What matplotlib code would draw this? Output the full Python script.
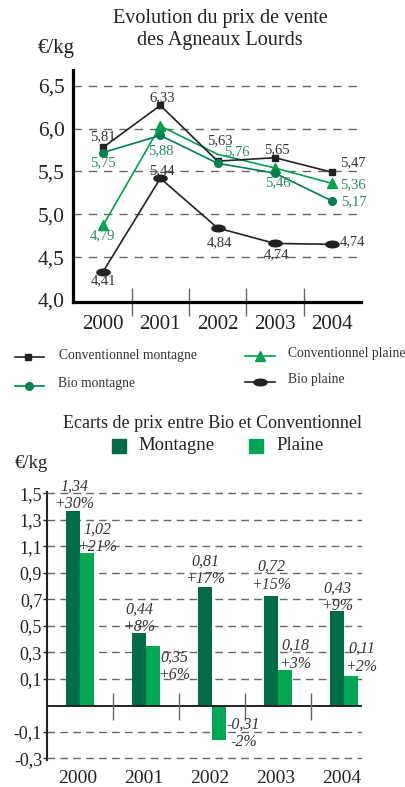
import matplotlib
matplotlib.use('Agg')
import matplotlib.pyplot as plt
from matplotlib.path import Path
from matplotlib.patches import Rectangle
import matplotlib.transforms as mtransforms
import numpy as np

plt.rcParams['font.family'] = ['Liberation Serif', 'DejaVu Serif']

# ---------------- data ----------------
years = ['2000', '2001', '2002', '2003', '2004']

# Top chart: price (EUR/kg) as plotted
conv_montagne = [5.78, 6.27, 5.62, 5.66, 5.49]
bio_montagne = [5.72, 5.92, 5.595, 5.48, 5.155]
conv_plaine = [4.87, 6.03, 5.70, 5.54, 5.36]
bio_plaine = [4.33, 5.42, 4.84, 4.66, 4.65]

conv_montagne_labels = ['5,81', '6,33', '5,63', '5,65', '5,47']
bio_montagne_labels = ['5,75', '5,88', '', '5,46', '5,17']
conv_plaine_labels = ['4,79', '', '5,76', '', '5,36']
bio_plaine_labels = ['4,41', '5,44', '4,84', '4,74', '4,74']

price_ticks = [4.0, 4.5, 5.0, 5.5, 6.0, 6.5]
price_tick_labels = ['4,0', '4,5', '5,0', '5,5', '6,0', '6,5']

# Bottom chart: price gaps Bio vs Conventionnel (bar heights as drawn)
ecart_montagne = [1.366, 0.445, 0.79, 0.724, 0.611]
ecart_plaine = [1.049, 0.347, -0.363, 0.165, 0.12]
montagne_val_labels = ['1,34', '0,44', '0,81', '0,72', '0,43']
montagne_pct_labels = ['+30%', '+8%', '+17%', '+15%', '+9%']
plaine_val_labels = ['1,02', '0,35', '-0,31', '0,18', '0,11']
plaine_pct_labels = ['+21%', '+6%', '-2%', '+3%', '+2%']

ecart_ticks = [1.5, 1.3, 1.1, 0.9, 0.7, 0.5, 0.3, 0.1, -0.3, -0.5]
ecart_tick_labels = ['1,5', '1,3', '1,1', '0,9', '0,7', '0,5', '0,3', '0,1', '-0,1', '-0,3']
ecart_baseline = -0.104

# ---------------- style ----------------
W, H = 406, 787
BLACK = '#222222'
GREEN_DARK = '#00804d'
GREEN_LIGHT = '#00a04f'
GREEN_TXT = '#2e8b5f'
BAR_MONT = '#006c45'
BAR_PLAI = '#00a651'
GRID = '#666666'
TXT = '#333333'

ellipse = Path.unit_circle()
ellipse = Path(ellipse.vertices * np.array([1.0, 0.5]), ellipse.codes)

fig = plt.figure(figsize=(W / 100, H / 100), dpi=100)


def rect(l, t, r, b):
    return [l / W, 1 - b / H, (r - l) / W, (b - t) / H]


# overlay for titles / legends in pixel coords
ov = fig.add_axes([0, 0, 1, 1], zorder=5)
ov.set_xlim(0, W)
ov.set_ylim(H, 0)
ov.axis('off')
ov.patch.set_alpha(0)

# ---------------- top chart ----------------
ax1 = fig.add_axes(rect(73, 70, 361, 302))
x = np.arange(len(years))
ax1.set_xlim(-0.524, 4.503)
ax1.set_ylim(3.977, 6.683)
for s in ['top', 'right']:
    ax1.spines[s].set_visible(False)
for s in ['left', 'bottom']:
    ax1.spines[s].set_linewidth(2.3)
    ax1.spines[s].set_color('black')

for yv in price_ticks[1:]:
    ax1.axhline(yv, color=GRID, lw=1.0, dashes=(6, 5), zorder=1)

ax1.set_yticks(price_ticks)
ax1.set_yticklabels(price_tick_labels, fontsize=15.5, color=BLACK)
ax1.tick_params(axis='y', length=0, pad=6)
ax1.set_xticks(x[:-1] + 0.5)
ax1.set_xticklabels([])
ax1.tick_params(axis='x', direction='inout', length=20, width=1.0, color=GRID)
trans1 = mtransforms.blended_transform_factory(ax1.transData, ax1.transAxes)
for xi, yr in zip(x, years):
    ax1.text(xi, -0.097, yr, transform=trans1, ha='center', va='center',
             fontsize=15, color=BLACK)

ax1.plot(x, conv_montagne, color=BLACK, lw=1.2, marker='s', ms=5, zorder=4)
ax1.plot(x, conv_plaine, color=GREEN_LIGHT, lw=1.2, marker='^', ms=7,
         markevery=[0, 1, 3, 4], zorder=3)
ax1.plot(x, bio_montagne, color=GREEN_DARK, lw=1.2, marker='o', ms=5.5, zorder=4)
ax1.plot(x, bio_plaine, color=BLACK, lw=1.2, marker=ellipse, ms=9.5, zorder=4)

lab_fs = 10.5
offs_cm = [(0, 11), (2, 8), (2, 20), (2, 8), (21, 10)]
offs_bm = [(0, -10), (1, -15), (0, 0), (3, -10), (22, -1)]
offs_cp = [(-1, -10), (0, 0), (19, 3), (0, 0), (21, -1)]
offs_bp = [(0, -9), (2, 8), (2, -15), (2, -11), (20, 3)]
for vals, labs, offs, col in [
        (conv_montagne, conv_montagne_labels, offs_cm, TXT),
        (bio_montagne, bio_montagne_labels, offs_bm, GREEN_TXT),
        (conv_plaine, conv_plaine_labels, offs_cp, GREEN_TXT),
        (bio_plaine, bio_plaine_labels, offs_bp, TXT)]:
    for xi, v, lab, off in zip(x, vals, labs, offs):
        if lab:
            ax1.annotate(lab, (xi, v), xytext=off, textcoords='offset pixels',
                         ha='center', va='center', fontsize=lab_fs, color=col,
                         zorder=6, annotation_clip=False)

ov.text(220, 18, 'Evolution du prix de vente', ha='center', va='center',
        fontsize=14.5, color=BLACK)
ov.text(220, 41, 'des Agneaux Lourds', ha='center', va='center',
        fontsize=14.5, color=BLACK)
ov.text(56, 48, '€/kg', ha='center', va='center', fontsize=15, color=BLACK)

# legend of top chart
leg_items = [
    (15, 44, 357, 28, 's', 5, BLACK, 'Conventionnel montagne', 59, 355),
    (245, 275, 356, 260, '^', 7, GREEN_LIGHT, 'Conventionnel plaine', 288, 353),
    (15, 44, 386, 29, 'o', 5.5, GREEN_DARK, 'Bio montagne', 58, 384),
    (245, 275, 382, 260, ellipse, 9.5, BLACK, 'Bio plaine', 288, 380),
]
for x0, x1, yl, xm, mk, ms, col, txt, xt, yt in leg_items:
    ov.plot([x0, x1], [yl, yl], color=col, lw=1.2)
    ov.plot([xm], [yl], color=col, marker=mk, ms=ms)
    ov.text(xt, yt, txt, ha='left', va='center', fontsize=9.8, color=TXT)

# ---------------- bottom chart ----------------
ax2 = fig.add_axes(rect(47, 491.7, 362, 760))
ax2.set_xlim(-0.5, 4.273)
ax2.set_ylim(-0.513, 1.512)
for s in ['top', 'right', 'bottom']:
    ax2.spines[s].set_visible(False)
ax2.spines['left'].set_linewidth(1.5)
ax2.spines['left'].set_color(BLACK)

for yv in ecart_ticks:
    ax2.axhline(yv, color=GRID, lw=1.0, dashes=(5.5, 3.8), zorder=1)
ax2.axhline(ecart_baseline, color=BLACK, lw=1.4, zorder=3)

ax2.set_yticks(ecart_ticks)
ax2.set_yticklabels(ecart_tick_labels, fontsize=13, color=BLACK)
ax2.tick_params(axis='y', length=3, width=1, pad=0.5, color=BLACK)
ax2.set_xticks([])

w = 0.212
hm = np.array(ecart_montagne) - ecart_baseline
hp = np.array(ecart_plaine) - ecart_baseline
ax2.bar(x - w / 2, hm, width=w, bottom=ecart_baseline, color=BAR_MONT, zorder=2)
ax2.bar(x + w / 2, hp, width=w, bottom=ecart_baseline, color=BAR_PLAI, zorder=2)

seps = x[:-1] + 0.5
ax2.vlines(seps, ecart_baseline - 0.108, ecart_baseline + 0.098, color=GRID, lw=1.0, zorder=3)

trans2 = mtransforms.blended_transform_factory(ax2.transData, ax2.transAxes)
for xi, yr in zip(x, years):
    ax2.text(xi - 0.03, -0.068, yr, transform=trans2, ha='center', va='center',
             fontsize=14, color=BLACK)

offs_m = [(1, 16), (0, 14.5), (0, 17), (0, 20.5), (0, 14)]
offs_p = [(10.5, 15), (21.5, -20), (24.5, 7), (10.5, 15.5), (10.5, 18.5)]
for xi, v, a, b, off in zip(x, ecart_montagne, montagne_val_labels, montagne_pct_labels, offs_m):
    ax2.annotate(a + '\n' + b, (xi - w / 2, v), xytext=off, textcoords='offset pixels',
                 ha='center', va='center', fontsize=11.5, style='italic', color=TXT,
                 linespacing=1.15, zorder=6, annotation_clip=False)
for xi, v, a, b, off in zip(x, ecart_plaine, plaine_val_labels, plaine_pct_labels, offs_p):
    ax2.annotate(a + '\n' + b, (xi + w / 2, v), xytext=off, textcoords='offset pixels',
                 ha='center', va='center', fontsize=11.5, style='italic', color=TXT,
                 linespacing=1.15, zorder=6, annotation_clip=False)

ov.text(213, 423, 'Ecarts de prix entre Bio et Conventionnel', ha='center', va='center',
        fontsize=13, color=BLACK)
ov.add_patch(Rectangle((112, 439), 14, 14, color=BAR_MONT))
ov.text(138, 446, 'Montagne', ha='left', va='center', fontsize=13.5, color=BLACK)
ov.add_patch(Rectangle((249, 439), 14, 14, color=BAR_PLAI))
ov.text(276, 446, 'Plaine', ha='left', va='center', fontsize=13.5, color=BLACK)
ov.text(31, 463, '€/kg', ha='center', va='center', fontsize=13.5, color=BLACK)

fig.savefig('out.png', dpi=100)
